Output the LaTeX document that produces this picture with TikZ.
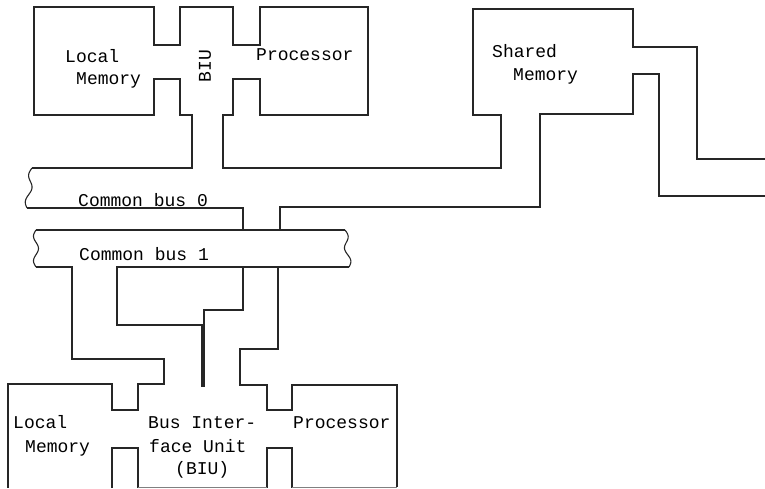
\documentclass[tikz,border=0pt]{standalone}
\usepackage{fontspec}
\newfontfamily\typewriter{Liberation Mono}

\begin{document}
\begin{tikzpicture}[x=1pt, y=-1pt,
    wall/.style={line width=1.1pt, line join=miter, black!85},
    txt/.style={font=\typewriter\fontsize{18}{20}\selectfont, inner sep=0pt, anchor=base west}]

    \useasboundingbox (0,0) rectangle (765,488);

    % ===== Upper cluster: memory, BIU, processor, shared memory =====
    \draw[wall] (32,168) -| (192,115) -| (180,79) -| (154,115) -| (34,7)
        -| (154,45) -| (180,7) -| (233,45) -| (260,7) -| (368,115)
        -| (260,79) -| (233,115) -| (223,168) -| (501,115) -| (473,9)
        -| (633,47) -| (697,159) -- (765,159);
    \draw[wall] (765,196) -| (659,74) -| (633,114) -| (540,207) -| (280,230);

    % Common bus 0
    \draw[wall] (27,208) -| (243,230);
    \draw[wall] plot[domain=0:1, samples=40, smooth]
        ({32-5*\x-2.5*sin(540*\x)}, {168+40*\x});

    % Common bus 1
    \draw[wall] (36,230) -- (345,230);
    \draw[wall] plot[domain=0:1, samples=40, smooth]
        ({36-2.5*sin(540*\x)}, {230+37*\x});
    \draw[wall] plot[domain=0:1, samples=40, smooth]
        ({345+4*\x+2.5*sin(540*\x)}, {230+37*\x});

    % ===== Lower cluster: memory, bus interface unit, processor =====
    \draw[wall] (36,267) -| (72,359) -| (164,384) -| (138,410) -| (112,384) -| (8,488);
    \draw[wall] (349,267) -- (117,267) -- (117,325) -- (202,325) -- (202,386)
        -- (204,386) -- (204,310) -- (243,310) -- (243,267);
    \draw[wall] (278,267) |- (240,349) |- (267,385) |- (292,410) |- (397,385) -- (397,487);
    \draw[wall] (112,488) |- (138,448) -- (138,488);
    \draw[wall] (267,488) |- (292,448) -- (292,488);

    % page edge cuts the boxes
    \draw[gray, line width=0.6pt] (138,487) -- (267,487);
    \draw[gray, line width=0.6pt] (292,487) -- (397,487);

    % Labels
    \node[txt] (memTopA) at (65,62) {Local};
    \node[txt] (memTopB) at (76,84) {Memory};
    \node[txt, anchor=center, rotate=90] (biuTop) at (205,66) {BIU};
    \node[txt] (cpuTop) at (256,60) {Processor};
    \node[txt] (sharedA) at (492,57) {Shared};
    \node[txt] (sharedB) at (513,80) {Memory};
    \node[txt] (busZero) at (78,206) {Common bus 0};
    \node[txt] (busOne) at (79,260) {Common bus 1};
    \node[txt] (memBotA) at (13,428) {Local};
    \node[txt] (memBotB) at (25,452) {Memory};
    \node[txt] (biuBotA) at (148,428) {Bus Inter-};
    \node[txt] (biuBotB) at (149,452) {face Unit};
    \node[txt] (biuBotC) at (175,474) {(BIU)};
    \node[txt] (cpuBot) at (293,428) {Processor};

\end{tikzpicture}
\end{document}
